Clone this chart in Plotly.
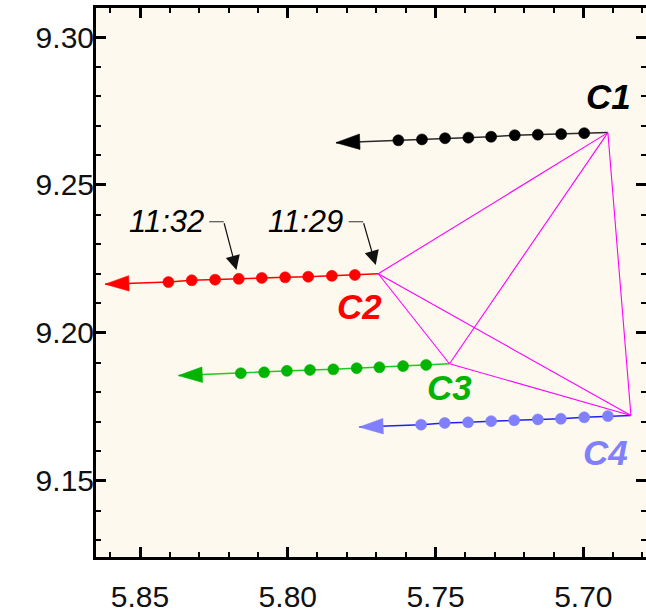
import plotly.graph_objects as go

# Cluster fixes every 30 s, listed from 11:29 onward (rightmost dot first)
c1_x = [5.6917, 5.6997, 5.7075, 5.7154, 5.7232, 5.7312, 5.7389, 5.7468, 5.7546, 5.7626]
c1_y = [9.2677, 9.2675, 9.2672, 9.2670, 9.2668, 9.2663, 9.2660, 9.2658, 9.2654, 9.2651]
c2_x = [5.7694, 5.7773, 5.7851, 5.7931, 5.8009, 5.8088, 5.8166, 5.8246, 5.8325, 5.8404]
c2_y = [9.2200, 9.2196, 9.2193, 9.2190, 9.2188, 9.2186, 9.2183, 9.2180, 9.2178, 9.2172]
c3_x = [5.7453, 5.7532, 5.7610, 5.7690, 5.7767, 5.7846, 5.7925, 5.8003, 5.8080, 5.8159]
c3_y = [9.1896, 9.1892, 9.1888, 9.1884, 9.1881, 9.1877, 9.1875, 9.1872, 9.1867, 9.1864]
c4_x = [5.6839, 5.6917, 5.6997, 5.7076, 5.7154, 5.7234, 5.7312, 5.7390, 5.7469, 5.7549]
c4_y = [9.1721, 9.1719, 9.1715, 9.1710, 9.1708, 9.1705, 9.1702, 9.1698, 9.1696, 9.1690]

# End points of the motion arrows
head_x = [5.7837, 5.8618, 5.8370, 5.7758]
head_y = [9.2643, 9.2165, 9.1856, 9.1682]

names = ["C1", "C2", "C3", "C4"]
dot_colors = ["#000000", "#ff0000", "#00b400", "#8080ff"]
line_colors = ["#2a2a2a", "#ff0000", "#22c822", "#2020f0"]

# Time stamps marked on the C2 track (index into c2 lists)
time_labels = ["11:29", "11:32"]
time_index = [0, 6]

x_ticks = [5.85, 5.80, 5.75, 5.70]
y_ticks = [9.15, 9.20, 9.25, 9.30]

W, H = 646, 615
M = dict(l=96, r=0, t=8, b=58)
x_range = [5.8649, 5.6788]
y_range = [9.1243, 9.3098]
px_per_y = (H - M["t"] - M["b"]) / (y_range[1] - y_range[0])

tracks = [(c1_x, c1_y), (c2_x, c2_y), (c3_x, c3_y), (c4_x, c4_y)]

fig = go.Figure()

for k, (xs, ys) in enumerate(tracks):
    px = xs + [head_x[k]]
    py = ys + [head_y[k]]
    fig.add_trace(go.Scatter(
        x=px, y=py, mode="lines",
        line=dict(color=line_colors[k], width=1.5),
        hoverinfo="skip", showlegend=False))
    fig.add_trace(go.Scatter(
        x=px, y=py, mode="markers",
        marker=dict(
            symbol=["circle"] * len(xs) + ["arrow"],
            size=[11] * len(xs) + [25],
            color=dot_colors[k], opacity=1,
            angleref="previous",
            line=dict(width=0.6, color=dot_colors[k])),
        hoverinfo="skip", showlegend=False))

# Baselines between every pair of cluster positions at 11:29
bx, by = [], []
for i in range(4):
    for j in range(i + 1, 4):
        bx += [tracks[i][0][0], tracks[j][0][0], None]
        by += [tracks[i][1][0], tracks[j][1][0], None]
fig.add_trace(go.Scatter(x=bx, y=by, mode="lines",
                         line=dict(color="#ff00ff", width=1.1),
                         hoverinfo="skip", showlegend=False))

# keeps the right-hand tick axis alive
fig.add_trace(go.Scatter(x=[x_range[0]], y=[y_range[0]], yaxis="y2",
                         mode="markers", marker=dict(opacity=0),
                         hoverinfo="skip", showlegend=False))

annotations = []
label_shift = [(1, 36), (-19, -33), (0, -24), (-25, -37)]
for k, nm in enumerate(names):
    annotations.append(dict(
        x=tracks[k][0][0], y=tracks[k][1][0], xref="x", yref="y",
        text=f"<b><i>{nm}</i></b>", showarrow=False,
        xshift=label_shift[k][0], yshift=label_shift[k][1],
        font=dict(family="Liberation Sans, Arial", size=35, color=dot_colors[k])))

row_y = c2_y[0] + 52 / px_per_y
for lab, idx in zip(time_labels, time_index):
    tx, ty = c2_x[idx], c2_y[idx]
    annotations.append(dict(
        x=tx, y=ty, xref="x", yref="y", text="", showarrow=True,
        ax=-15, ay=row_y, axref="pixel", ayref="y",
        arrowhead=2, arrowsize=2.4, arrowwidth=1.2, arrowcolor="#111111",
        standoff=9))
    annotations.append(dict(
        x=tx, y=row_y, xref="x", yref="y", text="", showarrow=True,
        xshift=-15, ax=-16, ay=0, arrowhead=0, arrowwidth=1.2,
        arrowcolor="#333333"))
    annotations.append(dict(
        x=tx, y=row_y, xref="x", yref="y", text=f"<i>{lab}</i>",
        showarrow=False, xanchor="right", yanchor="middle", xshift=-33,
        font=dict(family="Liberation Sans, Arial", size=31, color="#000000")))

tick_font = dict(family="Liberation Sans, Arial", size=30, color="#111111")
minor = dict(dtick=0.01, ticks="inside", ticklen=5, tickwidth=2, tickcolor="black")

fig.update_layout(
    width=W, height=H, margin=M,
    paper_bgcolor="white", plot_bgcolor="#fef9ee",
    showlegend=False, hovermode=False,
    annotations=annotations,
    xaxis=dict(range=x_range, tickvals=x_ticks, tickformat=".2f",
               ticks="inside", ticklen=10, tickwidth=2.5, tickcolor="black",
               minor=minor, showline=True, linewidth=3, linecolor="black",
               mirror="ticks", showgrid=False, zeroline=False,
               tickfont=tick_font, ticklabelstandoff=11),
    yaxis=dict(range=y_range, tickvals=y_ticks, tickformat=".2f",
               ticks="inside", ticklen=10, tickwidth=2.5, tickcolor="black",
               minor=minor, showline=True, linewidth=3, linecolor="black",
               showgrid=False, zeroline=False, tickfont=tick_font,
               ticklabelstandoff=-7),
    yaxis2=dict(range=y_range, overlaying="y", side="right",
                tickvals=y_ticks, ticks="inside", ticklen=10, tickwidth=2.5,
                tickcolor="black", minor=minor, showticklabels=False,
                showline=False, showgrid=False, zeroline=False),
)

fig.write_html("out.html")
